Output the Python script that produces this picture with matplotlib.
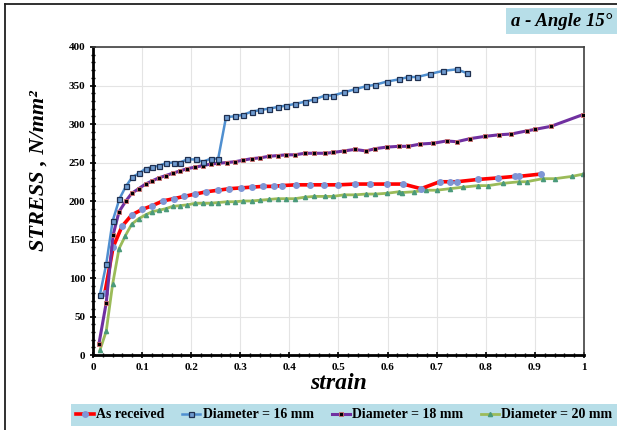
import numpy as np
import matplotlib.pyplot as plt
from matplotlib.lines import Line2D
from matplotlib.ticker import MultipleLocator

# -----------------------------------------------------------------------------
# data

strain_ar = [0.024, 0.041, 0.059, 0.079, 0.100, 0.121, 0.142, 0.164, 0.186, 0.208,
             0.231, 0.255, 0.278, 0.301, 0.324, 0.346, 0.369, 0.384, 0.413, 0.442,
             0.470, 0.500, 0.534, 0.565, 0.598, 0.632, 0.668, 0.706, 0.727, 0.741,
             0.784, 0.825, 0.860, 0.868, 0.912]
stress_ar = [80, 140, 167, 182, 189, 194, 200, 203, 206, 209,
             212, 214, 216, 217, 218, 219, 219, 220, 221, 221,
             221, 221, 222, 222, 222, 222, 216, 225, 225, 225,
             228, 230, 232, 232, 235]

strain_16 = [0.014, 0.027, 0.040, 0.054, 0.067, 0.080, 0.094, 0.107, 0.121, 0.135,
             0.149, 0.164, 0.177, 0.192, 0.209, 0.224, 0.240, 0.255, 0.271, 0.289,
             0.306, 0.323, 0.340, 0.358, 0.376, 0.394, 0.411, 0.432, 0.451, 0.473,
             0.489, 0.511, 0.533, 0.556, 0.575, 0.598, 0.623, 0.642, 0.660, 0.686,
             0.713, 0.741, 0.762]
stress_16 = [78, 118, 174, 203, 219, 231, 236, 242, 244, 246,
             249, 250, 250, 254, 254, 251, 255, 255, 309, 310,
             312, 316, 318, 320, 322, 324, 326, 329, 332, 337,
             337, 341, 345, 349, 351, 355, 358, 361, 361, 365,
             369, 371, 366]

strain_18 = [0.012, 0.027, 0.041, 0.053, 0.067, 0.079, 0.093, 0.107, 0.120, 0.134,
             0.148, 0.162, 0.177, 0.192, 0.208, 0.224, 0.240, 0.255, 0.273, 0.289,
             0.306, 0.323, 0.340, 0.358, 0.376, 0.394, 0.411, 0.432, 0.451, 0.473,
             0.489, 0.511, 0.533, 0.556, 0.575, 0.598, 0.623, 0.642, 0.667, 0.693,
             0.720, 0.741, 0.768, 0.799, 0.827, 0.852, 0.883, 0.900, 0.933, 0.997]
stress_18 = [14, 68, 156, 186, 200, 210, 216, 222, 226, 230,
             233, 236, 239, 242, 244, 246, 248, 249, 250, 251,
             253, 255, 256, 258, 259, 260, 260, 262, 262, 262,
             263, 265, 267, 265, 268, 270, 271, 271, 274, 275,
             278, 277, 281, 284, 286, 287, 291, 293, 297, 312]

strain_20 = [0.014, 0.027, 0.040, 0.053, 0.066, 0.079, 0.093, 0.107, 0.120, 0.134,
             0.148, 0.162, 0.177, 0.192, 0.208, 0.225, 0.240, 0.255, 0.273, 0.289,
             0.306, 0.323, 0.340, 0.358, 0.376, 0.394, 0.411, 0.432, 0.451, 0.473,
             0.489, 0.511, 0.533, 0.556, 0.575, 0.598, 0.623, 0.629, 0.654, 0.678,
             0.700, 0.727, 0.754, 0.784, 0.805, 0.836, 0.868, 0.883, 0.916, 0.941,
             0.976, 0.999]
stress_20 = [6, 31, 92, 138, 155, 170, 177, 182, 186, 188,
             190, 193, 194, 195, 197, 197, 197, 198, 199, 199,
             200, 200, 201, 202, 203, 203, 203, 205, 206, 206,
             206, 208, 208, 209, 209, 210, 212, 211, 212, 214,
             214, 216, 218, 220, 220, 223, 225, 225, 229, 229,
             232, 235]

labels = ['As received', 'Diameter = 16 mm', 'Diameter = 18 mm', 'Diameter = 20 mm']
xtick_labels = ['0', '0.1', '0.2', '0.3', '0.4', '0.5', '0.6', '0.7', '0.8', '0.9', '1']

# -----------------------------------------------------------------------------

plt.rcParams['font.family'] = ['Liberation Serif', 'DejaVu Serif']

fig = plt.figure(figsize=(6.17, 4.30), dpi=100)
ax = fig.add_axes([0.1507, 0.1744, 0.7958, 0.7163])

ax.plot(strain_ar, stress_ar, color='#ff0000', lw=2.6, marker='o', ms=4,
        mfc='#7f96d6', mec='#7f96d6', label=labels[0], zorder=3)
ax.plot(strain_16, stress_16, color='#4f8fd0', lw=1.8, marker='s', ms=3.6,
        mfc='#6f9bd0', mec='#1f3050', mew=0.9, label=labels[1], zorder=4)
ax.plot(strain_18, stress_18, color='#7030a0', lw=2.2, marker='s', ms=3.5,
        mfc='#000000', mec='#d07070', mew=0.6, label=labels[2], zorder=3)
ax.plot(strain_20, stress_20, color='#9bbb59', lw=2.0, marker='^', ms=3,
        mfc='#4a9a7a', mec='#4a9a7a', label=labels[3], zorder=2)

ax.set_xlim(0, 1)
ax.set_ylim(0, 400)
ax.xaxis.set_minor_locator(MultipleLocator(0.02))
ax.yaxis.set_major_locator(MultipleLocator(50))
ax.yaxis.set_minor_locator(MultipleLocator(10))
ax.set_xticks(np.arange(0, 1.01, 0.1))
ax.set_xticklabels(xtick_labels)

ax.grid(True, which='major', color='#e4e4e4', lw=0.8)
ax.set_axisbelow(True)

for s in ['left', 'bottom']:
    ax.spines[s].set_linewidth(2.0)
    ax.spines[s].set_color('black')
for s in ['top', 'right']:
    ax.spines[s].set_linewidth(1.2)
    ax.spines[s].set_color('#404040')

ax.tick_params(which='major', direction='inout', length=5, width=1.2, labelsize=8, pad=3)
ax.tick_params(which='minor', direction='inout', length=3, width=1.0)
ax.tick_params(top=False, right=False, which='both')
for lbl in ax.get_xticklabels() + ax.get_yticklabels():
    lbl.set_fontweight('bold')

ax.set_xlabel('strain', fontsize=17, fontweight='bold', style='italic', labelpad=1)
ax.set_ylabel('STRESS , N/mm²', fontsize=16, fontweight='bold', style='italic')
ax.yaxis.set_label_coords(-0.09, 0.6)

# title box
fig.text(511 / 617, 1 - 21 / 430, 'a - Angle 15°', fontsize=13.5, fontweight='bold',
         style='italic', ha='left', va='center',
         bbox=dict(facecolor='#b7dee8', edgecolor='none', pad=3.5))

# legend strip
leg = fig.legend(loc='center', bbox_to_anchor=(344 / 617, 1 - 415 / 430), ncol=4,
                 frameon=True, fancybox=False, handlelength=1.3,
                 handletextpad=0.15, columnspacing=1.3, borderpad=0.35,
                 borderaxespad=0, prop=dict(weight='bold', size=10))
leg.get_frame().set_facecolor('#b7dee8')
leg.get_frame().set_edgecolor('none')
leg.get_frame().set_alpha(1)

# outer frame lines at left and top
fig.add_artist(Line2D([5 / 617, 5 / 617], [0, 1 - 4 / 430], transform=fig.transFigure,
                      color='#202020', lw=1.3))
fig.add_artist(Line2D([5 / 617, 1], [1 - 4 / 430, 1 - 4 / 430], transform=fig.transFigure,
                      color='#202020', lw=1.3))

plt.savefig('out.png', dpi=100)
